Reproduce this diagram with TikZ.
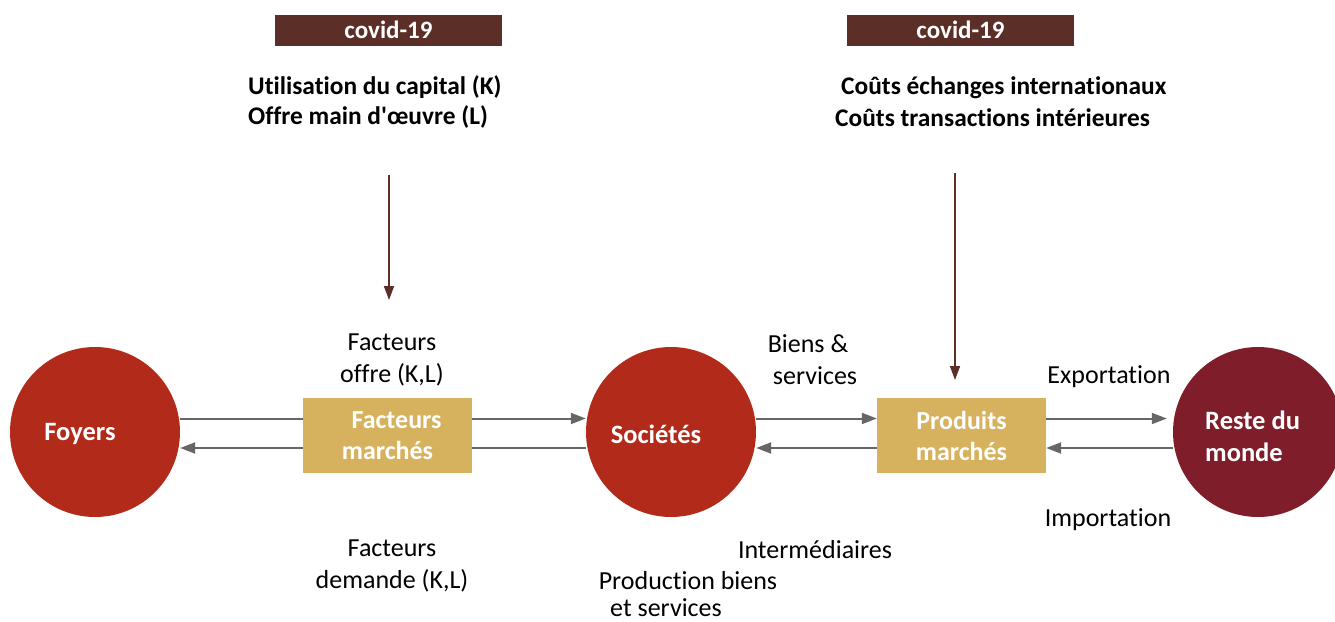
\documentclass[tikz,border=0pt]{standalone}
\usepackage{fontspec}
\setmainfont{Carlito}[Ligatures={NoCommon}]
\usetikzlibrary{arrows.meta}
\definecolor{covidbrown}{HTML}{5B2E27}
\definecolor{circred}{HTML}{B22A1A}
\definecolor{circwine}{HTML}{7F1D2B}
\definecolor{mktgold}{HTML}{D6B25E}
\definecolor{flowgray}{HTML}{666666}
\tikzset{
  covidbox/.style={fill=covidbrown, text=white, font=\fontsize{25}{30}\selectfont\bfseries, minimum width=227pt, minimum height=31pt, inner sep=0pt},
  headtext/.style={font=\fontsize{25.4}{30}\selectfont\bfseries, inner sep=0pt, anchor=west},
  agent/.style={circle, minimum size=170pt, inner sep=0pt},
  agenttext/.style={text=white, font=\fontsize{26.5}{32}\selectfont\bfseries, inner sep=0pt},
  market/.style={fill=mktgold, minimum width=169pt, minimum height=75pt, inner sep=0pt, text=white, font=\fontsize{26}{31}\selectfont\bfseries, align=center},
  lbl/.style={font=\fontsize{26}{32}\selectfont, inner sep=0pt, align=center},
  flow/.style={draw=flowgray, line width=2pt},
  flowarr/.style={flow, -{Triangle[length=15pt,width=11pt]}},
  shock/.style={draw=covidbrown, line width=1.6pt, -{Triangle[length=14pt,width=10pt]}}
}
\begin{document}
\begin{tikzpicture}[x=1pt,y=-1pt]
\useasboundingbox (0,0) rectangle (1335,621);
% covid boxes
\node[covidbox] (c1) at (388.5,30) {covid-19};
\node[covidbox] (c2) at (960.5,30) {covid-19};
% header texts
\node[headtext] (h1a) at (248,87) {Utilisation du capital (K)};
\node[headtext] (h1b) at (248,117) {Offre main d\textquotesingle œuvre (L)};
\node[headtext] (h2a) at (841,88) {Coûts échanges internationaux};
\node[headtext] (h2b) at (835,118) {Coûts transactions intérieures};
% agents
\node[agent, fill=circred] (foy) at (95,432) {};
\node[agenttext] (foyt) at (80,434) {Foyers};
\node[agent, fill=circred] (soc) at (671,432) {};
\node[agenttext] (soct) at (656,434) {Sociétés};
\node[agent, fill=circwine] (rdm) at (1258,432) {};
\node[agenttext, anchor=west] (rdmt1) at (1205,420) {Reste du};
\node[agenttext, anchor=west] (rdmt2) at (1205,452) {monde};
% markets
\node[market] (fm) at (387.5,435.5) {\hspace*{18pt}Facteurs\\marchés};
\node[market] (pm) at (961.5,435.5) {Produits\\marchés};
% helper levels
\coordinate (ya) at (0,418.5);
\coordinate (yb) at (0,448);
% flows left
\draw[flow] (foy.east |- ya) -- (fm.west |- ya);
\draw[flowarr] (fm.east |- ya) -- (soc.west |- ya);
\draw[flow] (soc.west |- yb) -- (fm.east |- yb);
\draw[flowarr] (fm.west |- yb) -- (foy.east |- yb);
% flows right
\draw[flowarr] (soc.east |- ya) -- (pm.west |- ya);
\draw[flowarr] (pm.east |- ya) -- ([xshift=-6pt]rdm.west |- ya);
\draw[flowarr] (pm.west |- yb) -- (soc.east |- yb);
\draw[flowarr] (rdm.west |- yb) -- (pm.east |- yb);
% covid shocks
\coordinate (s1) at (389,300);
\coordinate (s2) at (955,380);
\draw[shock] (389,175) -- (s1);
\draw[shock] (955,173) -- (s2);
% labels
\node[lbl] (l1) at (392,360) {Facteurs\\offre (K,L)};
\node[lbl] (l2) at (808,360) {Biens \&\\\hspace*{14pt}services};
\node[lbl] (l3) at (1109,377) {Exportation};
\node[lbl] (l4) at (1108,520) {Importation};
\node[lbl] (l5) at (392,566) {Facteurs\\demande (K,L)};
\node[lbl] (l6) at (815,550) {Intermédiaires};
\node[lbl] (l7) at (688,581) {Production biens};
\node[lbl] (l8) at (666,608) {et services};
\end{tikzpicture}
\end{document}
